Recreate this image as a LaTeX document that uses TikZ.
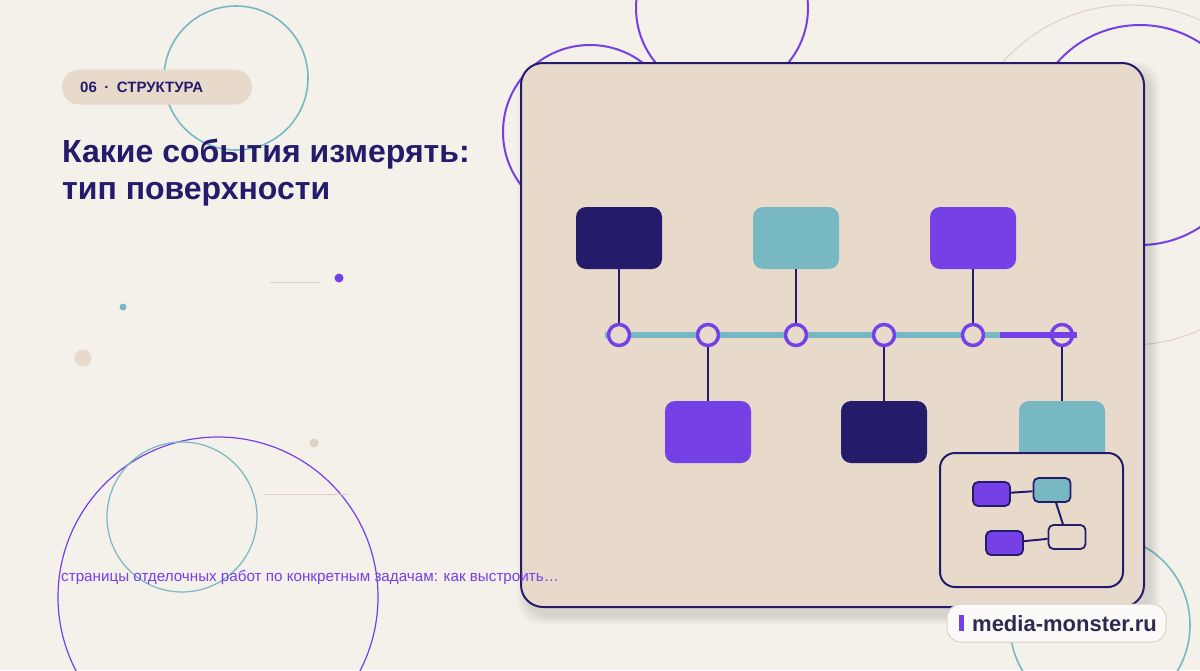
\documentclass[tikz,border=0pt]{standalone}
\usepackage{fontspec}
\setmainfont{Liberation Sans}
\usetikzlibrary{positioning}
\definecolor{bgpaper}{HTML}{F4F0EA}
\definecolor{sand}{HTML}{E7DACB}
\definecolor{navy}{HTML}{241C6B}
\definecolor{seateal}{HTML}{78B8C3}
\definecolor{brightviolet}{HTML}{7540E6}
\definecolor{beigeline}{HTML}{DDD1C3}
\definecolor{inkgray}{HTML}{2E2A4F}
\begin{document}
\begin{tikzpicture}
[x=1pt,y=-1pt,
  eventbox/.style={shape=rectangle,rounded corners=10pt,minimum width=86pt,minimum height=62pt,inner sep=0pt},%
  stopmark/.style={shape=circle,minimum size=21pt,inner sep=0pt,draw=brightviolet,line width=3.5pt,fill=sand},%
  stemline/.style={-,draw=navy,line width=2.5pt},%
  minibox/.style={shape=rectangle,rounded corners=5pt,minimum width=37pt,minimum height=24pt,inner sep=0pt,draw=navy,line width=1.8pt},%
  minilink/.style={-,draw=navy,line width=2pt},%
  ring/.style={line width=1.6pt}]
\useasboundingbox (0,0) rectangle (1200,670);
\clip (0,0) rectangle (1200,670);
\fill[bgpaper] (0,0) rectangle (1200,670);
%% decorative rings and dots
\draw[ring,seateal] (236,78) circle (72);
\draw[ring,brightviolet,line width=2pt] (722,8) circle (86);
\draw[ring,brightviolet,line width=2pt] (590,132) circle (87);
\draw[ring,brightviolet,line width=2pt] (1140,135) circle (110);
\draw[beigeline,line width=1pt] (1130,175) circle (170);
\draw[ring,seateal] (1100,625) circle (90);
\draw[ring,brightviolet,line width=1.2pt] (218,597) circle (160);
\draw[ring,seateal,line width=1.2pt] (182,517) circle (75);
\fill[brightviolet] (339,278) circle (4.5);
\fill[seateal] (123,307) circle (3.5);
\fill[sand] (83,358) circle (8.5);
\fill[beigeline] (314,443) circle (4.5);
\draw[beigeline,line width=1pt] (270,282) -- (320,282);
\draw[beigeline,line width=1pt] (265,494) -- (348,494);
%% header
\node (tag) at (157,87) [shape=rectangle,rounded corners=17.5pt,fill=sand,minimum width=190pt,minimum height=35pt] {};
\node (tagtext) at (80,87) [anchor=west,inner sep=0pt,text=navy,font=\bfseries\fontsize{15}{17}\selectfont] {06\enspace·\enspace СТРУКТУРА};
\node (title) at (62,139) [anchor=north west,inner sep=0pt,align=left,text=navy,font=\bfseries\fontsize{32}{37}\selectfont] {Какие события измерять:\\тип поверхности};
%% frame with soft shadow
\foreach \k in {1,...,10} {
  \fill[black,opacity=0.01,rounded corners=24pt] (527-\k,71-\k) rectangle (1150+\k,615+\k);
}
\node (frame) at (832.5,335) [shape=rectangle,rounded corners=22pt,fill=sand,draw=navy,line width=2pt,minimum width=623pt,minimum height=544pt] {};
\node (teaser) at (61,577) [anchor=west,inner sep=0pt,text=brightviolet,font=\fontsize{15.2}{18}\selectfont] {страницы отделочных работ по конкретным задачам: как выстроить…};
%% event boxes
\foreach \nodename/\x/\y/\col in {e1/619/238/navy, e2/796/238/seateal, e3/973/238/brightviolet,
  e4/708/432/brightviolet, e5/884/432/navy, e6/1062/432/seateal} {
  \node (\nodename) at (\x,\y) [eventbox,fill=\col] {};
}
%% time axis
\coordinate (axisstart) at (605,335);
\coordinate (axissplit) at (1000,335);
\coordinate (axisend) at (1077,335);
\draw[seateal,line width=6pt] (axisstart) -- (axissplit);
\foreach \nodename/\x in {t1/619, t2/708, t3/796, t4/884, t5/973, t6/1062} {
  \node (\nodename) at (\x,335) [stopmark] {};
}
\draw[brightviolet,line width=6pt] (axissplit) -- (axisend);
%% stems
\path
\foreach \startnode/\endnode in {e1/t1, e2/t3, e3/t5, t2/e4, t4/e5, t6/e6} {
  (\startnode) edge[stemline] (\endnode)
};
%% inset map
\node (inset) at (1031.5,520) [shape=rectangle,rounded corners=15pt,fill=sand,draw=navy,line width=2pt,minimum width=183pt,minimum height=134pt] {};
\node (ma) at (991.5,494) [minibox,fill=brightviolet] {};
\node (mb) at (1052,490) [minibox,fill=seateal] {};
\node (mc) at (1004.5,543) [minibox,fill=brightviolet] {};
\node (md) at (1067,537) [minibox,fill=sand] {};
\path
\foreach \startnode/\endnode in {ma/mb, mb/md, mc/md} {
  (\startnode) edge[minilink] (\endnode)
};
%% site badge
\node (site) at (1056.5,623) [shape=rectangle,rounded corners=14pt,fill=white!70!bgpaper,draw=beigeline,line width=1pt,minimum width=219pt,minimum height=38pt] {};
\fill[brightviolet] (959,615) rectangle (964,631);
\node (sitetext) at (972,624) [anchor=west,inner sep=0pt,text=inkgray,font=\bfseries\fontsize{22}{25}\selectfont] {media-monster.ru};
\end{tikzpicture}
\end{document}
